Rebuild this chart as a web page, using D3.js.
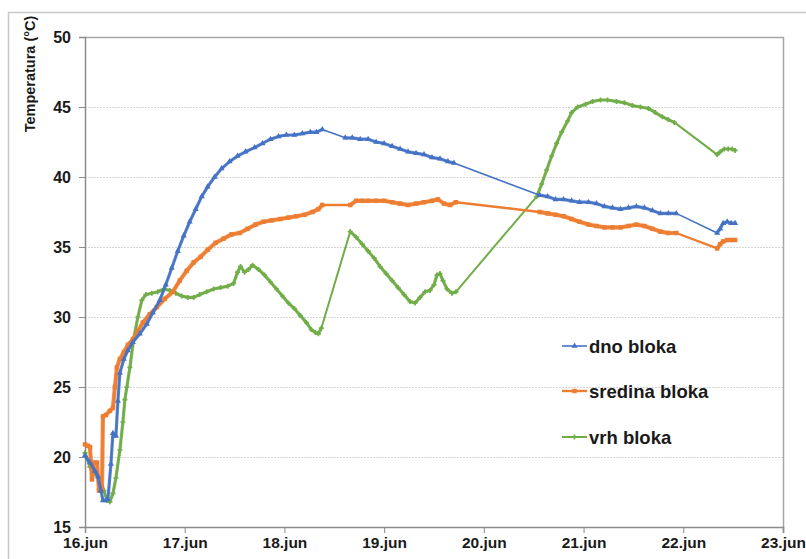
<!DOCTYPE html>
<html><head><meta charset="utf-8">
<script src="https://cdn.jsdelivr.net/npm/d3@7"></script>
<style>body{margin:0;background:#fff}svg{display:block}text{font-family:"Liberation Sans",Arial,sans-serif}</style>
</head><body>
<svg id="c" width="806" height="559"></svg>
<script>
// x = days since 16.jun 00:00
const xTicks = [0,1,2,3,4,5,6,7];
const xTickLabels = ["16.jun","17.jun","18.jun","19.jun","20.jun","21.jun","22.jun","23.jun"];
const yTicks = [15,20,25,30,35,40,45,50];
const seriesNames = ["dno bloka","sredina bloka","vrh bloka"];

const dnoDays = [0,0.05,0.10,0.13,0.16,0.18,0.21,0.23,0.26,0.28,0.31,0.33,0.35,0.39,0.43,0.48,0.55,0.62,0.68,0.75,0.81,0.87,0.93,0.99,1.05,1.11,1.17,1.23,1.30,1.37,1.45,1.53,1.61,1.70,1.78,1.86,1.94,2.02,2.10,2.18,2.26,2.32,2.38,
 2.61,2.68,2.76,2.84,2.92,3.00,3.08,3.16,3.24,3.32,3.40,3.48,3.56,3.64,3.70,
 4.56,4.64,4.72,4.80,4.88,4.96,5.05,5.13,5.21,5.29,5.37,5.45,5.53,5.61,5.69,5.77,5.85,5.93,
 6.34,6.37,6.40,6.44,6.48,6.52];
const dnoVals = [20.1,19.6,19.0,18.6,17.6,16.9,16.9,17.0,19.5,21.7,21.5,24.0,26.0,27.0,27.6,28.2,28.8,29.5,30.3,31.2,32.3,33.5,34.7,35.8,36.8,37.7,38.6,39.3,40.0,40.6,41.1,41.5,41.8,42.1,42.4,42.7,42.9,43.0,43.0,43.1,43.2,43.2,43.4,
 42.8,42.8,42.7,42.7,42.5,42.4,42.2,42.0,41.8,41.7,41.6,41.4,41.3,41.1,41.0,
 38.7,38.6,38.4,38.4,38.3,38.2,38.2,38.1,37.9,37.8,37.7,37.8,37.9,37.8,37.6,37.4,37.4,37.4,
 36.0,36.3,36.7,36.8,36.7,36.7];

const sredDays = [0,0.03,0.05,0.07,0.09,0.12,0.14,0.17,0.18,0.21,0.25,0.28,0.30,0.32,0.35,0.39,0.43,0.48,0.53,0.58,0.65,0.72,0.80,0.88,0.95,1.02,1.09,1.16,1.23,1.31,1.39,1.47,1.55,1.63,1.71,1.79,1.87,1.96,2.04,2.12,2.20,2.28,2.34,2.38,
 2.66,2.72,2.78,2.84,2.92,3.00,3.08,3.16,3.24,3.32,3.40,3.48,3.54,3.60,3.66,3.72,
 4.56,4.64,4.72,4.80,4.88,4.96,5.05,5.13,5.21,5.29,5.37,5.45,5.53,5.61,5.69,5.77,5.85,5.93,
 6.34,6.37,6.40,6.44,6.48,6.52];
const sredVals = [20.9,20.8,20.7,18.4,19.6,19.6,17.6,17.6,22.9,23.0,23.3,23.5,25.0,26.4,27.0,27.5,28.0,28.4,29.0,29.6,30.2,30.7,31.3,31.8,32.6,33.3,33.9,34.3,34.8,35.3,35.6,35.9,36.0,36.3,36.6,36.8,36.9,37.0,37.1,37.2,37.3,37.5,37.7,38.0,
 38.0,38.3,38.3,38.3,38.3,38.3,38.2,38.1,38.0,38.1,38.2,38.3,38.4,38.1,38.0,38.2,
 37.5,37.4,37.3,37.2,37.0,36.8,36.6,36.5,36.4,36.4,36.4,36.5,36.6,36.5,36.3,36.1,36.0,36.0,
 34.9,35.2,35.4,35.5,35.5,35.5];

const vrhDays = [0,0.05,0.10,0.15,0.19,0.22,0.25,0.28,0.31,0.35,0.38,0.40,0.42,0.45,0.49,0.53,0.57,0.61,0.67,0.73,0.79,0.85,0.91,0.97,1.03,1.09,1.15,1.22,1.29,1.36,1.43,1.49,1.53,1.56,1.60,1.64,1.68,1.74,1.80,1.86,1.92,1.98,2.04,2.10,2.16,2.22,2.27,2.31,2.34,2.37,
 2.66,2.72,2.78,2.84,2.90,2.96,3.02,3.08,3.14,3.20,3.26,3.31,3.36,3.41,3.46,3.50,3.53,3.56,3.59,3.63,3.68,3.72,
 4.53,4.58,4.63,4.68,4.73,4.78,4.84,4.88,4.94,5.02,5.09,5.17,5.24,5.33,5.41,5.49,5.57,5.65,5.72,5.79,5.85,5.91,
 6.34,6.37,6.41,6.45,6.49,6.52];
const vrhVals = [20.3,19.3,18.8,18.4,17.6,16.9,16.8,17.4,18.5,20.5,22.5,24.1,25.0,26.4,28.5,30.0,31.2,31.6,31.7,31.8,32.0,31.9,31.7,31.5,31.4,31.4,31.6,31.8,32.0,32.1,32.2,32.4,33.2,33.6,33.2,33.4,33.7,33.4,33.0,32.5,32.0,31.5,31.0,30.6,30.1,29.6,29.1,28.9,28.8,29.2,
 36.1,35.7,35.2,34.7,34.2,33.6,33.1,32.6,32.1,31.6,31.1,31.0,31.4,31.8,31.9,32.3,33.0,33.1,32.6,32.0,31.7,31.8,
 38.6,39.5,40.5,41.5,42.4,43.2,44.0,44.6,45.0,45.2,45.4,45.5,45.5,45.4,45.3,45.1,45.0,44.9,44.6,44.3,44.1,43.9,
 41.6,41.8,42.0,42.0,42.0,41.9];

const colors = ["#4472c4","#ed7d31","#70ad47"];

const svg = d3.select("#c");
const L = 85, R = 783, T = 37, B = 527;
const x = d3.scaleLinear().domain([0,7]).range([L,R]);
const y = d3.scaleLinear().domain([15,50]).range([B,T]);

// outer frame
svg.append("path").attr("d","M8.5,559 V12.5 H806").attr("fill","none").attr("stroke","#c8c8c8").attr("stroke-width",1.5);

// gridlines
svg.append("g").selectAll("line").data(yTicks.filter(v=>v>15 && v<50)).join("line")
  .attr("x1",L).attr("x2",R).attr("y1",d=>Math.round(y(d))+0.5).attr("y2",d=>Math.round(y(d))+0.5)
  .attr("stroke","#d4d4d4").attr("stroke-width",1).attr("stroke-dasharray","2,1");

// plot border top/right
svg.append("path").attr("d",`M${L},${T+0.5} H${R+0.5} V${B+6}`).attr("fill","none").attr("stroke","#a6a6a6").attr("stroke-width",1.5);

// axes
const yAxis = d3.axisLeft(y).tickValues(yTicks).tickSize(6).tickFormat(d3.format("d"));
const gy = svg.append("g").attr("transform",`translate(${L},0)`).call(yAxis);
gy.select(".domain").attr("stroke","#8c8c8c").attr("stroke-width",1.5);
gy.selectAll(".tick line").attr("stroke","#8c8c8c");
gy.selectAll("text").attr("font-size","16px").attr("font-weight","bold").attr("fill","#1a1a1a").attr("x",-14)
  .style("font-family","'Liberation Sans',Arial,sans-serif");

const xAxis = d3.axisBottom(x).tickValues(xTicks).tickSize(6).tickFormat((d,i)=>xTickLabels[i]);
const gx = svg.append("g").attr("transform",`translate(0,${B})`).call(xAxis);
gx.select(".domain").attr("stroke","#8c8c8c").attr("stroke-width",1.5);
gx.selectAll(".tick line").attr("stroke","#8c8c8c");
gx.selectAll("text").attr("font-size","15.5px").attr("font-weight","bold").attr("fill","#1a1a1a").attr("y",10)
  .style("font-family","'Liberation Sans',Arial,sans-serif");

// y title
svg.append("text").attr("transform","translate(35,74) rotate(-90)").attr("text-anchor","middle")
  .attr("font-size","14.5px").attr("font-weight","bold").attr("fill","#1a1a1a").text("Temperatura (°C)");

const series = [
  {name:seriesNames[0], days:dnoDays, vals:dnoVals, color:colors[0], sym:d3.symbolTriangle, size:16, lw:1.6, bw:3.2},
  {name:seriesNames[1], days:sredDays, vals:sredVals, color:colors[1], sym:d3.symbolSquare, size:20, lw:2.4, bw:4.2},
  {name:seriesNames[2], days:vrhDays, vals:vrhVals, color:colors[2], sym:d3.symbolCross, size:14, lw:2.0, bw:3.2}
];
const line = d3.line().x(d=>x(d[0])).y(d=>y(d[1])).curve(d3.curveLinear);
const order = [2,1,0];
order.forEach(i=>{
  const s = series[i];
  const pts = s.days.map((d,k)=>[d,s.vals[k]]);
  const g = svg.append("g");
  g.append("path").attr("d",line(pts)).attr("fill","none").attr("stroke",s.color).attr("stroke-width",s.lw).attr("stroke-linejoin","round");
  // thicker band over densely sampled stretches
  const segs = []; let cur = [pts[0]];
  for (let k=1;k<pts.length;k++){
    if (pts[k][0]-pts[k-1][0] < 0.15) cur.push(pts[k]); else { segs.push(cur); cur=[pts[k]]; }
  }
  segs.push(cur);
  g.selectAll("path.b").data(segs.filter(sg=>sg.length>1)).join("path").attr("class","b")
    .attr("d",line).attr("fill","none").attr("stroke",s.color).attr("stroke-width",s.bw)
    .attr("stroke-linejoin","round").attr("stroke-linecap","round").attr("opacity",0.85);
  g.selectAll("path.m").data(pts).join("path").attr("class","m")
    .attr("d",d3.symbol().type(s.sym).size(s.size))
    .attr("transform",d=>`translate(${x(d[0])},${y(d[1])})`)
    .attr("fill",s.color);
});

// legend
const legY = [346,391,437];
series.forEach((s,i)=>{
  const g = svg.append("g");
  g.append("line").attr("x1",562).attr("x2",587).attr("y1",legY[i]).attr("y2",legY[i]).attr("stroke",s.color).attr("stroke-width",s.lw);
  g.append("path").attr("d",d3.symbol().type(s.sym).size(s.size)).attr("transform",`translate(574.5,${legY[i]})`).attr("fill",s.color);
  g.append("text").attr("x",589).attr("y",legY[i]+6.5).attr("font-size","18.5px").attr("font-weight","bold").attr("fill","#1a1a1a").text(s.name);
});
</script>
</body></html>
